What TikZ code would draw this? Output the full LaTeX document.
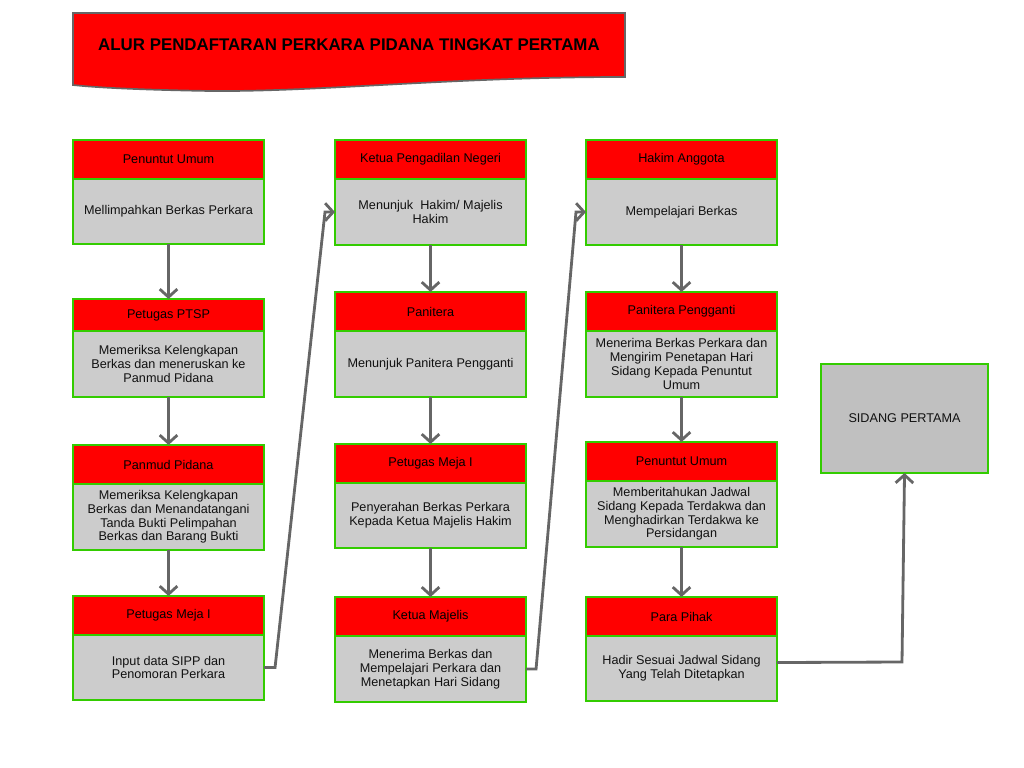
\documentclass[tikz,border=0pt]{standalone}
\usepackage{fontspec}
\setmainfont{Liberation Sans}
\usetikzlibrary{arrows.meta,calc}
\definecolor{bgreen}{HTML}{33CC00}
\definecolor{hred}{HTML}{FF0000}
\definecolor{bgray}{HTML}{CCCCCC}
\definecolor{lgray}{HTML}{666666}
\definecolor{sgray}{HTML}{C0C0C0}
\definecolor{tgray}{HTML}{111111}
\begin{document}
\begin{tikzpicture}[x=0.025cm,y=-0.025cm,
  hdr/.style={draw=bgreen, fill=hred, line width=1.5pt, outer sep=0pt,
    minimum width=4.775cm, minimum height=0.975cm, anchor=north west,
    inner sep=0pt, align=center, font=\fontsize{9}{9.8}\selectfont, text=black},
  bdy/.style={hdr, fill=bgray, minimum height=1.625cm, text=tgray},
  conn/.style={draw=lgray, line width=2pt,
    -{Straight Barb[length=0.2cm,width=0.44cm,line width=2pt]}},
]
\useasboundingbox (0,0) rectangle (1024,768);

% title banner
\path[draw=lgray, line width=1.2pt, fill=hred]
  (73,13) -- (625,13) -- (625,77)
  .. controls (450,77) and (320,92) .. (210,91)
  .. controls (150,90) and (100,88) .. (73,85) -- cycle;
\node[font=\bfseries\fontsize{12}{14}\selectfont, text=black] (title) at (349,45)
  {ALUR PENDAFTARAN PERKARA PIDANA TINGKAT PERTAMA};

% column 1
\node[hdr] (c1h1) at (73,140) {Penuntut Umum};
\node[bdy] (c1b1) at (c1h1.south west) {Mellimpahkan Berkas Perkara};
\node[hdr, minimum height=0.8cm] (c1h2) at (73,299) {Petugas PTSP};
\node[bdy, minimum height=1.65cm] (c1b2) at (c1h2.south west) {Memeriksa Kelengkapan\\Berkas dan meneruskan ke\\Panmud Pidana};
\node[hdr] (c1h3) at (73,445) {Panmud Pidana};
\node[bdy, minimum height=1.65cm] (c1b3) at (c1h3.south west) {Memeriksa Kelengkapan\\Berkas dan Menandatangani\\Tanda Bukti Pelimpahan\\Berkas dan Barang Bukti};
\node[hdr] (c1h4) at (73,596) {Petugas Meja I};
\node[bdy] (c1b4) at (c1h4.south west) {Input data SIPP dan\\Penomoran Perkara};

% column 2
\node[hdr] (c2h1) at (335,140) {Ketua Pengadilan Negeri};
\node[bdy, minimum height=1.65cm] (c2b1) at (c2h1.south west) {Menunjuk\ \ Hakim/ Majelis\\Hakim};
\node[hdr] (c2h2) at (335,292) {Panitera};
\node[bdy, minimum height=1.65cm] (c2b2) at (c2h2.south west) {Menunjuk Panitera Pengganti};
\node[hdr] (c2h3) at (335,444) {Petugas Meja I};
\node[bdy] (c2b3) at (c2h3.south west) {Penyerahan Berkas Perkara\\Kepada Ketua Majelis Hakim};
\node[hdr] (c2h4) at (335,597) {Ketua Majelis};
\node[bdy, minimum height=1.65cm] (c2b4) at (c2h4.south west) {Menerima Berkas dan\\Mempelajari Perkara dan\\Menetapkan Hari Sidang};

% column 3
\node[hdr] (c3h1) at (586,140) {Hakim Anggota};
\node[bdy, minimum height=1.65cm] (c3b1) at (c3h1.south west) {Mempelajari Berkas};
\node[hdr] (c3h2) at (586,292) {Panitera Pengganti};
\node[bdy, minimum height=1.65cm] (c3b2) at (c3h2.south west) {Menerima Berkas Perkara dan\\Mengirim Penetapan Hari\\Sidang Kepada Penuntut\\Umum};
\node[hdr] (c3h3) at (586,442) {Penuntut Umum};
\node[bdy, minimum height=1.65cm] (c3b3) at (c3h3.south west) {Memberitahukan Jadwal\\Sidang Kepada Terdakwa dan\\Menghadirkan Terdakwa ke\\Persidangan};
\node[hdr] (c3h4) at (586,597) {Para Pihak};
\node[bdy] (c3b4) at (c3h4.south west) {Hadir Sesuai Jadwal Sidang\\Yang Telah Ditetapkan};

% final
\node[draw=bgreen, fill=sgray, line width=1.5pt, outer sep=0pt, anchor=north west,
  minimum width=4.175cm, minimum height=2.725cm, inner sep=0pt,
  font=\fontsize{9}{10}\selectfont, text=tgray] (sp) at (821,364) {SIDANG PERTAMA};

% vertical connectors
\draw[conn] (c1b1.south) -- (c1h2.north);
\draw[conn] (c1b2.south) -- (c1h3.north);
\draw[conn] (c1b3.south) -- (c1h4.north);
\draw[conn] (c2b1.south) -- (c2h2.north);
\draw[conn] (c2b2.south) -- (c2h3.north);
\draw[conn] (c2b3.south) -- (c2h4.north);
\draw[conn] (c3b1.south) -- (c3h2.north);
\draw[conn] (c3b2.south) -- (c3h3.north);
\draw[conn] (c3b3.south) -- (c3h4.north);

% cross-column connectors
\draw[conn] (c1b4.east) -- ++(11,0) -- ($(c2b1.west)+(-10,0)$) -- (c2b1.west);
\draw[conn] (c2b4.east) -- ++(10,0) -- ($(c3b1.west)+(-10,0)$) -- (c3b1.west);
\coordinate (bend) at (902,662);
\draw[conn] ($(c3b4.east)+(0,-6)$) -- (bend) -- (sp.south);
\end{tikzpicture}
\end{document}
